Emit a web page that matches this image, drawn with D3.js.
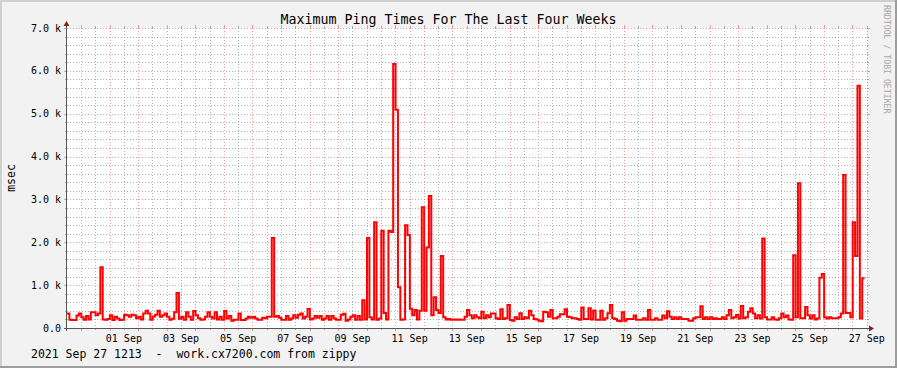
<!DOCTYPE html>
<html>
<head>
<meta charset="utf-8">
<script src="https://cdn.jsdelivr.net/npm/d3@7"></script>
<style>
  body { margin: 0; background: #fff; }
  svg { display: block; }
  text { font-family: "DejaVu Sans Mono", monospace; }
</style>
</head>
<body>
<svg id="chart"></svg>
<script>
// chart texts
const title = "Maximum Ping Times For The Last Four Weeks";
const footer = "2021 Sep 27 1213  -  work.cx7200.com from zippy";
const yLabel = "msec";
const watermark = "RRDTOOL / TOBI OETIKER";

// time range, one value every 2 hours
const startTime = "2021-08-30 12:13";
const endTime = "2021-09-27 12:13";
const stepHours = 2;

const yTickValues = [0, 1000, 2000, 3000, 4000, 5000, 6000, 7000];
const yTickLabels = ["0.0", "1.0 k", "2.0 k", "3.0 k", "4.0 k", "5.0 k", "6.0 k", "7.0 k"];
const xTickLabels = ["01 Sep", "03 Sep", "05 Sep", "07 Sep", "09 Sep", "11 Sep", "13 Sep",
  "15 Sep", "17 Sep", "19 Sep", "21 Sep", "23 Sep", "25 Sep", "27 Sep"];

// max ping (msec)
const maxPing = [
  340, 190, 185, 185, 290, 340, 250, 190, 280, 200,
  365, 365, 300, 340, 1420, 200, 190, 210, 295, 185,
  265, 220, 185, 190, 310, 300, 265, 310, 300, 230,
  260, 200, 340, 400, 340, 190, 270, 310, 400, 260,
  300, 340, 265, 190, 215, 365, 816, 215, 265, 190,
  365, 265, 190, 395, 295, 230, 190, 200, 265, 365,
  265, 220, 365, 200, 260, 190, 395, 220, 280, 170,
  190, 190, 340, 185, 185, 220, 265, 240, 265, 220,
  190, 190, 240, 230, 265, 265, 2100, 265, 280, 240,
  190, 190, 280, 190, 220, 295, 240, 310, 340, 220,
  265, 443, 200, 220, 280, 240, 280, 190, 220, 280,
  190, 280, 220, 190, 190, 310, 330, 170, 200, 265,
  295, 190, 280, 190, 650, 200, 2100, 250, 200, 2470,
  190, 220, 2270, 350, 200, 2270, 2240, 6160, 5090, 950,
  190, 200, 2400, 2170, 450, 300, 420, 200, 400, 2820,
  400, 1880, 3080, 300, 720, 420, 350, 1680, 250, 200,
  210, 190, 200, 190, 200, 190, 190, 265, 420, 300,
  226, 300, 250, 226, 380, 226, 300, 250, 340, 340,
  226, 210, 436, 210, 226, 537, 187, 170, 250, 210,
  342, 210, 250, 226, 400, 300, 210, 200, 170, 160,
  380, 370, 265, 420, 226, 226, 265, 320, 320, 440,
  265, 250, 226, 226, 210, 190, 480, 210, 210, 460,
  200, 410, 190, 190, 400, 190, 226, 342, 537, 226,
  210, 170, 160, 370, 170, 210, 210, 210, 290, 190,
  190, 190, 230, 190, 420, 190, 190, 230, 190, 190,
  290, 226, 390, 260, 210, 250, 210, 250, 210, 210,
  210, 170, 170, 226, 250, 250, 510, 210, 250, 210,
  250, 210, 226, 210, 210, 250, 210, 300, 420, 226,
  250, 303, 220, 513, 226, 250, 381, 459, 340, 226,
  300, 220, 2090, 250, 200, 200, 250, 200, 190, 226,
  340, 250, 290, 200, 190, 1700, 250, 3380, 226, 226,
  490, 300, 220, 300, 200, 220, 1170, 1260, 250, 220,
  250, 226, 226, 226, 250, 340, 3570, 350, 350, 250,
  2470, 1680, 5650, 220, 1160, null
];

const width = 897;
const height = 368;
const plotLeft = 67, plotRight = 867, plotTop = 28, plotBottom = 328;

const parseTime = d3.utcParse("%Y-%m-%d %H:%M");
const t0 = parseTime(startTime);
const t1 = parseTime(endTime);

const svg = d3.select("#chart").attr("width", width).attr("height", height);

// background and 3d frame
svg.append("rect").attr("width", width).attr("height", height).attr("fill", "#f2f2f2");
svg.append("path").attr("fill", "#cfcfcf")
  .attr("d", `M0,0H${width}V2H2V${height}H0Z`);
svg.append("path").attr("fill", "#9e9e9e")
  .attr("d", `M${width},${height}H0V${height - 2}H${width - 2}V0H${width}Z`);

const x = d3.scaleUtc().domain([t0, t1]).range([plotLeft, plotRight]);
const y = d3.scaleLinear().domain([0, 7000]).range([plotBottom, plotTop]);

svg.append("rect")
  .attr("x", plotLeft).attr("y", plotTop)
  .attr("width", plotRight - plotLeft).attr("height", plotBottom - plotTop)
  .attr("fill", "#ffffff");

const gridCol = "rgba(143,143,143,0.7)";
const mgridCol = "rgba(222,79,79,0.55)";
const dash = "1,2";
const px = v => Math.round(v) + 0.5;

const grid = svg.append("g");

// vertical grid: minor every 12h, major every day
const majorDays = d3.utcDay.range(t0, t1);
const minorHours = d3.utcHour.every(12).range(t0, t1).filter(d => d.getUTCHours() !== 0);

grid.selectAll(".vminor").data(minorHours).enter().append("line")
  .attr("x1", d => px(x(d))).attr("x2", d => px(x(d)))
  .attr("y1", plotTop).attr("y2", plotBottom)
  .attr("stroke", gridCol).attr("stroke-dasharray", dash);
grid.selectAll(".vmajor").data(majorDays).enter().append("line")
  .attr("x1", d => px(x(d))).attr("x2", d => px(x(d)))
  .attr("y1", plotTop).attr("y2", plotBottom)
  .attr("stroke", mgridCol).attr("stroke-dasharray", dash);

// small ticks outside plot for x grid
grid.selectAll(".vminorTick").data(minorHours).enter().append("path")
  .attr("d", d => `M${px(x(d))},${plotBottom}v2M${px(x(d))},${plotTop}v-2`)
  .attr("stroke", gridCol);
grid.selectAll(".vmajorTick").data(majorDays).enter().append("path")
  .attr("d", d => `M${px(x(d))},${plotBottom}v3M${px(x(d))},${plotTop}v-3`)
  .attr("stroke", mgridCol);

// horizontal grid: minor every 200, major every 1000
const minorVals = d3.range(200, 7000, 200).filter(v => v % 1000 !== 0);
const majorVals = yTickValues.filter(v => v > 0);

grid.selectAll(".hminor").data(minorVals).enter().append("line")
  .attr("x1", plotLeft).attr("x2", plotRight)
  .attr("y1", d => px(y(d))).attr("y2", d => px(y(d)))
  .attr("stroke", gridCol).attr("stroke-dasharray", dash);
grid.selectAll(".hmajor").data(majorVals).enter().append("line")
  .attr("x1", plotLeft).attr("x2", plotRight)
  .attr("y1", d => px(y(d))).attr("y2", d => px(y(d)))
  .attr("stroke", mgridCol).attr("stroke-dasharray", dash);
grid.selectAll(".hminorTick").data(minorVals).enter().append("path")
  .attr("d", d => `M${plotLeft},${px(y(d))}h-2M${plotRight},${px(y(d))}h2`)
  .attr("stroke", gridCol);
grid.selectAll(".hmajorTick").data(majorVals).enter().append("path")
  .attr("d", d => `M${plotLeft},${px(y(d))}h-3M${plotRight},${px(y(d))}h3`)
  .attr("stroke", mgridCol);

// data line (stepped)
const stepMs = stepHours * 3600 * 1000;
const points = [];
maxPing.forEach((v, i) => {
  if (v != null) points.push({ t: new Date(+t0 + i * stepMs), v: v });
});
const last = points[points.length - 1];
points.push({ t: new Date(+last.t + stepMs), v: last.v });

const line = d3.line()
  .x(d => x(d.t))
  .y(d => y(d.v))
  .curve(d3.curveStepAfter);

svg.append("path")
  .datum(points)
  .attr("d", line)
  .attr("fill", "none")
  .attr("stroke", "#ff0000")
  .attr("stroke-width", 2)
  .attr("stroke-linejoin", "miter");

// axes with arrows
const axisCol = "#555";
const arrowCol = "#801f1f";
svg.append("line")
  .attr("x1", plotLeft - 3).attr("x2", plotRight + 3)
  .attr("y1", plotBottom + 0.5).attr("y2", plotBottom + 0.5)
  .attr("stroke", axisCol);
svg.append("line")
  .attr("x1", plotLeft - 0.5).attr("x2", plotLeft - 0.5)
  .attr("y1", plotBottom + 3).attr("y2", plotTop - 3)
  .attr("stroke", axisCol);
svg.append("path").attr("fill", arrowCol)
  .attr("d", `M${plotRight + 2},${plotBottom - 2.5}L${plotRight + 7},${plotBottom + 0.5}L${plotRight + 2},${plotBottom + 3.5}Z`);
svg.append("path").attr("fill", arrowCol)
  .attr("d", `M${plotLeft - 3.5},${plotTop - 2}L${plotLeft - 0.5},${plotTop - 7}L${plotLeft + 2.5},${plotTop - 2}Z`);

// y labels
svg.selectAll(".ylab").data(yTickValues).enter().append("text")
  .attr("x", 61).attr("y", d => y(d) + 3.6)
  .attr("text-anchor", "end")
  .attr("font-size", "10px")
  .attr("fill", "#000")
  .style("white-space", "pre")
  .text((d, i) => yTickLabels[i]);

// x labels, centred at noon of the labelled day
const parseLabel = d3.utcParse("%d %b %Y %H");
svg.selectAll(".xlab").data(xTickLabels).enter().append("text")
  .attr("x", d => x(parseLabel(d + " 2021 12")))
  .attr("y", 341.5)
  .attr("text-anchor", "middle")
  .attr("font-size", "10px")
  .attr("fill", "#000")
  .text(d => d);

// title
svg.append("text")
  .attr("x", width / 2).attr("y", 24)
  .attr("text-anchor", "middle")
  .attr("font-size", "13.3px")
  .attr("fill", "#000")
  .text(title);

// vertical axis label
svg.append("text")
  .attr("transform", `translate(14.5,${(plotTop + plotBottom) / 2}) rotate(-90)`)
  .attr("text-anchor", "middle")
  .attr("font-size", "11.5px")
  .attr("fill", "#000")
  .text(yLabel);

// footer
svg.append("text")
  .attr("x", 31).attr("y", 358)
  .attr("font-size", "11.5px")
  .attr("fill", "#000")
  .style("white-space", "pre")
  .text(footer);

// watermark
svg.append("text")
  .attr("transform", "translate(883.5,5) rotate(90)")
  .attr("font-size", "8.2px")
  .attr("fill", "#a8a8a8")
  .text(watermark);
</script>
</body>
</html>
